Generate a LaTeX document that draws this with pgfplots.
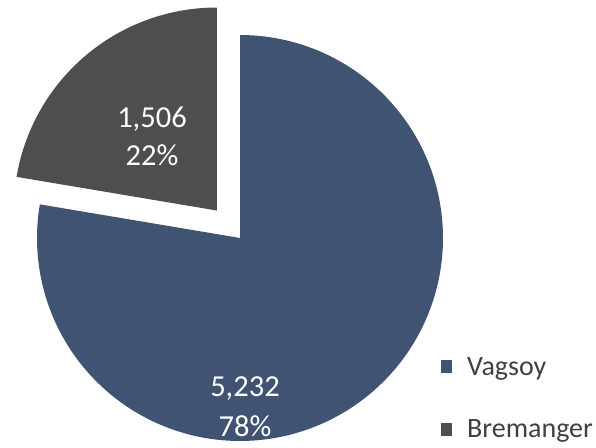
\documentclass[border=0pt]{standalone}
\usepackage{pgfplots}
\usepackage{pgfplotstable}
\pgfplotsset{compat=1.18}
\usepackage{fontspec}
\setmainfont{Carlito}
\definecolor{cblue}{HTML}{405373}
\definecolor{cgray}{HTML}{4E4E4E}
\pgfplotstableread{
name value
Vagsoy 5232
Bremanger 1506
}\piedata
\pgfplotstablegetelem{0}{value}\of\piedata \let\vA\pgfplotsretval
\pgfplotstablegetelem{1}{value}\of\piedata \let\vB\pgfplotsretval
\pgfmathsetmacro{\frac}{\vB/(\vA+\vB)}
\pgfmathsetmacro{\aB}{90+360*\frac}   % end of Bremanger slice
\pgfmathsetmacro{\aE}{450}
\pgfmathsetmacro{\mid}{(90+\aB)/2}
\pgfmathsetmacro{\ox}{36*cos(\mid)}
\pgfmathsetmacro{\oy}{36*sin(\mid)}
\pgfmathsetmacro{\gx}{240+\ox}
\pgfmathsetmacro{\gy}{209+\oy}
\begin{document}
\begin{tikzpicture}
\begin{axis}[
  x=1pt, y=1pt,
  xmin=0, xmax=596, ymin=0, ymax=447,
  hide axis, clip=false,
  legend style={at={(axis cs:441,49)}, anchor=west, draw=none, fill=none,
    inner sep=0pt, row sep=43pt, nodes={inner sep=0pt},
    font=\fontsize{28}{33}\selectfont, text=black!75, cells={anchor=west}},
  legend image code/.code={\fill[#1] (0pt,-6.5pt) rectangle (11pt,6.5pt); \path (26pt,0pt);},
]
\addplot[fill=cblue, draw=none, domain=\aB:\aE, samples=160]
  ({240+203*cos(x)}, {209+203*sin(x)}) -- (axis cs:240,209) -- cycle;
\addlegendentry{Vagsoy}
\addplot[fill=cgray, draw=none, domain=90:\aB, samples=80]
  ({\gx+203*cos(x)}, {\gy+203*sin(x)}) -- (axis cs:\gx,\gy) -- cycle;
\addlegendentry{Bremanger}
\node[white, align=center, font=\fontsize{30.5}{38}\selectfont] at (axis cs:152,311) {1,506\\22\%};
\node[white, align=center, font=\fontsize{30.5}{40}\selectfont] at (axis cs:245,40) {5,232\\78\%};
\coordinate (bl) at (axis cs:0,0);
\coordinate (tr) at (axis cs:596,447);
\end{axis}
\pgfresetboundingbox
\path (bl) rectangle (tr);
\end{tikzpicture}
\end{document}
